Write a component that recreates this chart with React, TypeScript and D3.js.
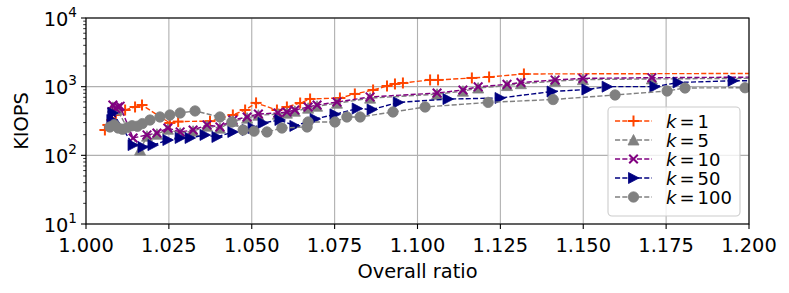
import React from 'react';
import * as d3 from 'd3';

const W = 789;
const H = 293;
const PL = 86, PR = 749, PT = 18, PB = 224;

const xTicks = [1.0, 1.025, 1.05, 1.075, 1.1, 1.125, 1.15, 1.175, 1.2];
const yTicks = [10, 100, 1000, 10000];

const k1Ratio = [1.0057, 1.0066, 1.0078, 1.0090, 1.0118, 1.0148, 1.0169, 1.0253, 1.0278, 1.0374, 1.0443, 1.0480, 1.0513, 1.0576, 1.0606, 1.0646, 1.0676, 1.0766, 1.0811, 1.0866, 1.0908, 1.0932, 1.0956, 1.1038, 1.1062, 1.1164, 1.1216, 1.1321, 1.2600];
const k1Kiops = [234, 277, 327, 387, 457, 506, 541, 296, 310, 315, 387, 457, 580, 457, 506, 578, 662, 684, 783, 895, 1023, 1095, 1132, 1253, 1253, 1339, 1384, 1531, 1580];

const k5Ratio = [1.0081, 1.0094, 1.0163, 1.0184, 1.0214, 1.0247, 1.0284, 1.0323, 1.0365, 1.0404, 1.0443, 1.0486, 1.0520, 1.0579, 1.0606, 1.0630, 1.0670, 1.0697, 1.0757, 1.0857, 1.1059, 1.1137, 1.1183, 1.1270, 1.1312, 1.1415, 1.1499, 1.1707, 1.2600];
const k5Kiops = [500, 460, 119, 190, 203, 240, 210, 225, 266, 249, 314, 348, 384, 397, 411, 439, 486, 519, 574, 680, 777, 859, 955, 1037, 1104, 1203, 1267, 1296, 1372];

const k10Ratio = [1.0078, 1.0081, 1.0090, 1.0097, 1.0103, 1.0142, 1.0184, 1.0214, 1.0247, 1.0284, 1.0323, 1.0365, 1.0404, 1.0443, 1.0486, 1.0520, 1.0579, 1.0606, 1.0630, 1.0670, 1.0697, 1.0757, 1.0857, 1.1059, 1.1137, 1.1183, 1.1270, 1.1312, 1.1415, 1.1499, 1.1707, 1.2600];
const k10Kiops = [430, 541, 480, 506, 520, 179, 198, 211, 250, 219, 234, 277, 259, 327, 362, 400, 414, 428, 457, 506, 541, 598, 708, 809, 895, 995, 1080, 1150, 1253, 1320, 1350, 1430];

const k50Ratio = [1.0078, 1.0081, 1.0142, 1.0172, 1.0202, 1.0247, 1.0284, 1.0314, 1.0359, 1.0395, 1.0443, 1.0486, 1.0504, 1.0534, 1.0585, 1.0630, 1.0691, 1.0751, 1.0818, 1.0863, 1.0942, 1.1092, 1.1249, 1.1406, 1.1511, 1.1572, 1.1716, 1.1786, 1.1952, 1.2600];
const k50Kiops = [327, 414, 141, 132, 141, 167, 179, 179, 198, 185, 219, 234, 250, 296, 327, 268, 338, 395, 480, 465, 590, 660, 684, 850, 910, 1000, 1000, 1150, 1220, 1240];

const k100Ratio = [1.0072, 1.0085, 1.0097, 1.0110, 1.0125, 1.0139, 1.0155, 1.0170, 1.0193, 1.0223, 1.0253, 1.0284, 1.0329, 1.0404, 1.0440, 1.0474, 1.0507, 1.0546, 1.0591, 1.0667, 1.0670, 1.0751, 1.0787, 1.0827, 1.0926, 1.1023, 1.1213, 1.1409, 1.1596, 1.1753, 1.1807, 1.1988];
const k100Kiops = [259, 280, 250, 240, 255, 270, 265, 290, 327, 362, 387, 414, 443, 362, 306, 234, 225, 219, 250, 259, 306, 306, 362, 362, 428, 506, 590, 650, 757, 865, 957, 965];

const seriesLabels = ['1', '5', '10', '50', '100'];
const seriesColors = ['#ff4500', '#808080', '#800080', '#000080', '#808080'];
const seriesMarkers = ['plus', 'tri_up', 'x', 'tri_right', 'circle'];
const seriesRatios = [k1Ratio, k5Ratio, k10Ratio, k50Ratio, k100Ratio];
const seriesKiops = [k1Kiops, k5Kiops, k10Kiops, k50Kiops, k100Kiops];

const FONT = 'DejaVu Sans, sans-serif';

function Marker({ type, x, y, color }: { type: string; x: number; y: number; color: string }) {
  const s = 5.5;
  switch (type) {
    case 'plus':
      return (
        <g stroke={color} strokeWidth={2}>
          <line x1={x - s} y1={y} x2={x + s} y2={y} />
          <line x1={x} y1={y - s} x2={x} y2={y + s} />
        </g>
      );
    case 'x': {
      const a = 4.3;
      return (
        <g stroke={color} strokeWidth={2}>
          <line x1={x - a} y1={y - a} x2={x + a} y2={y + a} />
          <line x1={x - a} y1={y + a} x2={x + a} y2={y - a} />
        </g>
      );
    }
    case 'tri_up':
      return <path d={`M${x},${y - 5.5}L${x + 5.5},${y + 5}L${x - 5.5},${y + 5}Z`} fill={color} stroke={color} strokeWidth={0.8} />;
    case 'tri_right':
      return <path d={`M${x + 5.5},${y}L${x - 5},${y - 5.5}L${x - 5},${y + 5.5}Z`} fill={color} stroke={color} strokeWidth={0.8} />;
    default:
      return <circle cx={x} cy={y} r={5.2} fill={color} stroke={color} strokeWidth={0.8} />;
  }
}

export default function App() {
  const x = d3.scaleLinear().domain([1.0, 1.2]).range([PL, PR]);
  const y = d3.scaleLog().domain([10, 10000]).range([PB, PT]);
  const line = d3.line<[number, number]>().x((d) => x(d[0])).y((d) => y(d[1]));
  const fmt = d3.format('.3f');

  const minor: number[] = [];
  [10, 100, 1000].forEach((dec) => {
    for (let m = 2; m <= 9; m++) minor.push(dec * m);
  });

  const legendX = 608, legendY = 107, legendW = 132, legendH = 109;
  const rowY = (i: number) => 121 + i * 19;

  return (
    <div style={{ position: 'fixed', left: 0, top: 0, width: W, height: H, background: '#fff' }}>
      <svg width={W} height={H} style={{ display: 'block' }} fontFamily={FONT}>
        <defs>
          <clipPath id="plotclip">
            <rect x={PL} y={PT} width={PR - PL} height={PB - PT} />
          </clipPath>
        </defs>
        <rect x={0} y={0} width={W} height={H} fill="#fff" />
        {/* grid */}
        <g stroke="#b0b0b0" strokeWidth={1.1}>
          {xTicks.map((t) => (
            <line key={'gx' + t} x1={x(t)} x2={x(t)} y1={PT} y2={PB} />
          ))}
          {yTicks.map((t) => (
            <line key={'gy' + t} x1={PL} x2={PR} y1={y(t)} y2={y(t)} />
          ))}
        </g>
        {/* series */}
        <g clipPath="url(#plotclip)">
          {seriesLabels.map((lab, i) => {
            const pts: [number, number][] = seriesRatios[i].map((r, j) => [r, seriesKiops[i][j]]);
            return (
              <g key={'s' + lab}>
                <path d={line(pts) || ''} fill="none" stroke={seriesColors[i]} strokeWidth={1.4} strokeDasharray="5.1,2.2" />
                {pts.map((p, j) => (
                  <Marker key={j} type={seriesMarkers[i]} x={x(p[0])} y={y(p[1])} color={seriesColors[i]} />
                ))}
              </g>
            );
          })}
        </g>
        {/* spines */}
        <rect x={PL} y={PT} width={PR - PL} height={PB - PT} fill="none" stroke="#000" strokeWidth={1.1} />
        {/* x ticks */}
        {xTicks.map((t) => (
          <g key={'xt' + t}>
            <line x1={x(t)} x2={x(t)} y1={PB} y2={PB + 5} stroke="#000" strokeWidth={1.1} />
            <text x={x(t)} y={252} fontSize={19.4} textAnchor="middle" fill="#000">
              {fmt(t)}
            </text>
          </g>
        ))}
        {/* y ticks */}
        {yTicks.map((t) => (
          <g key={'yt' + t}>
            <line x1={PL - 5} x2={PL} y1={y(t)} y2={y(t)} stroke="#000" strokeWidth={1.1} />
            <text x={PL - 9} y={y(t) + 7.5} fontSize={19.4} textAnchor="end" fill="#000">
              10
              <tspan fontSize={13.6} dy={-9}>
                {String(Math.round(Math.log10(t)))}
              </tspan>
            </text>
          </g>
        ))}
        {minor.map((t) => (
          <line key={'ym' + t} x1={PL - 2.8} x2={PL} y1={y(t)} y2={y(t)} stroke="#000" strokeWidth={0.8} />
        ))}
        {/* axis labels */}
        <text x={(PL + PR) / 2} y={278} fontSize={19.4} textAnchor="middle" fill="#000">
          Overall ratio
        </text>
        <text transform={`translate(28,${(PT + PB) / 2}) rotate(-90)`} fontSize={19.4} textAnchor="middle" fill="#000">
          KIOPS
        </text>
        {/* legend */}
        <rect x={legendX} y={legendY} width={legendW} height={legendH} rx={4} fill="#fff" fillOpacity={0.8} stroke="#cccccc" strokeWidth={1.1} />
        {seriesLabels.map((lab, i) => (
          <g key={'lg' + lab}>
            <line x1={615} x2={652} y1={rowY(i)} y2={rowY(i)} stroke={seriesColors[i]} strokeWidth={1.4} strokeDasharray="5.1,2.2" />
            <Marker type={seriesMarkers[i]} x={633.5} y={rowY(i)} color={seriesColors[i]} />
            <text x={666} y={rowY(i) + 6.5} fontSize={18} fill="#000">
              <tspan fontStyle="italic">k</tspan>
              <tspan dx={3}>=</tspan>
              <tspan dx={3}>{lab}</tspan>
            </text>
          </g>
        ))}
      </svg>
    </div>
  );
}
